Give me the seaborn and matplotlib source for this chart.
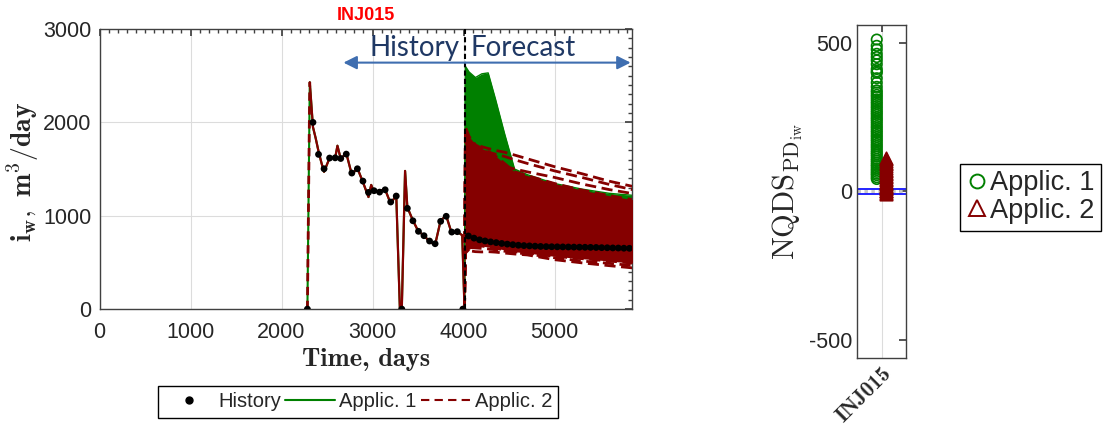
import numpy as np
import pandas as pd
import matplotlib
matplotlib.use("Agg")
import matplotlib.pyplot as plt
import seaborn as sns
from matplotlib.lines import Line2D
from matplotlib.ticker import MultipleLocator

# ---------------- data ----------------
hist_days = [2284, 2345, 2406, 2467, 2528, 2589, 2650, 2711, 2772, 2833,
             2894, 2955, 3016, 3077, 3138, 3199, 3260, 3321, 3382, 3443,
             3504, 3565, 3626, 3687, 3748, 3809, 3870, 3931, 3992]
hist_rate = [0, 2000, 1657, 1503, 1618, 1620, 1613, 1660, 1457, 1503,
             1371, 1250, 1268, 1253, 1278, 1147, 1211, 0, 1079, 946,
             833, 786, 729, 700, 940, 994, 825, 829, 0]

ref_fc_days = [4053, 4114, 4175, 4236, 4297, 4358, 4419, 4480, 4541, 4602,
               4663, 4724, 4785, 4846, 4907, 4968, 5029, 5090, 5151, 5212,
               5273, 5334, 5395, 5456, 5517, 5578, 5639, 5700, 5761, 5822]
ref_fc_rate = [783, 760, 742, 730, 720, 712, 703, 696, 690, 684,
               680, 677, 674, 671, 669, 668, 667, 666, 665, 664,
               663, 662, 661, 660, 658, 657, 655, 654, 652, 651]

sim_days = [2284, 2310, 2345, 2375, 2406, 2440, 2467, 2528, 2589, 2614,
            2650, 2711, 2772, 2833, 2894, 2955, 2985, 3016, 3077, 3138,
            3199, 3260, 3300, 3321, 3357, 3382, 3443, 3504, 3565, 3626,
            3687, 3748, 3809, 3870, 3931, 3985, 4010]
sim_rate = [0, 2430, 1950, 1830, 1690, 1560, 1470, 1620, 1620, 1750,
            1610, 1670, 1440, 1510, 1360, 1200, 1330, 1250, 1270, 1280,
            1130, 1220, 0, 0, 1480, 1090, 950, 830, 790, 720,
            690, 950, 1000, 810, 830, 790, 0]

fc_grid = [4010, 4020, 4060, 4130, 4200, 4270, 4350, 4450, 4560, 4700, 5000, 5300, 5600, 5900]
green_upper = [0, 2600, 2540, 2480, 2520, 2530, 2250, 1880, 1500, 1440, 1345, 1285, 1240, 1215]
green_mid = [0, 2450, 2380, 2330, 2420, 2450, 2100, 1700, 1460, 1410, 1320, 1265, 1220, 1195]
green_lower = [0, 1500, 1480, 1450, 1420, 1400, 1380, 1350, 1300, 1260, 1180, 1120, 1080, 1040]
red_upper = [0, 1950, 1850, 1760, 1720, 1690, 1640, 1560, 1470, 1430, 1345, 1275, 1215, 1165]
red_lower = [0, 600, 640, 680, 675, 665, 650, 635, 615, 600, 565, 540, 515, 488]
red_out_a = [0, 1900, 1800, 1760, 1740, 1720, 1700, 1680, 1650, 1610, 1525, 1450, 1370, 1305]
red_out_b = [0, 1850, 1760, 1720, 1700, 1680, 1660, 1635, 1600, 1560, 1480, 1410, 1335, 1270]
red_out_c = [0, 1800, 1700, 1650, 1620, 1590, 1560, 1530, 1500, 1470, 1410, 1340, 1280, 1230]
red_out_d = [0, 640, 625, 615, 612, 615, 610, 600, 590, 580, 529, 495, 465, 437]
red_out_e = [0, 660, 660, 655, 650, 645, 635, 620, 605, 590, 550, 515, 490, 462]

well = "INJ015"
nqds_app1 = [42, 48, 55, 60, 66, 72, 78, 85, 90, 97, 104, 110, 118, 125, 131,
             138, 146, 153, 160, 168, 175, 183, 190, 198, 205, 213, 220, 228,
             236, 243, 250, 258, 265, 272, 280, 287, 295, 302, 310, 318, 325,
             333, 340, 352, 366, 381, 399, 404, 412, 428, 441, 452, 463, 478,
             490, 511]
nqds_app2 = [-8, -4, 0, 3, 7, 11, 15, 20, 24, 29, 33, 38, 43, 48, 53, 58, 63,
             68, 73, 79, 85, 91, 97, 103, 108, 112]

GREEN = "#008000"
RED = "#850000"
ARROW = "#3F6EB0"
NAVY = "#1F3864"

# ---------------- style ----------------
sns.set_theme(style="white")
plt.rcParams["font.family"] = ["Liberation Sans", "DejaVu Sans"]
plt.rcParams["mathtext.fontset"] = "cm"
plt.rcParams["axes.unicode_minus"] = False

fig = plt.figure(figsize=(11.07, 4.43), dpi=100)
ax = fig.add_axes([0.0899, 0.3023, 0.4810, 0.6322])
ax2 = fig.add_axes([0.7742, 0.1919, 0.0443, 0.7517])

# ---------------- left panel ----------------
ax.fill_between(fc_grid, green_lower, green_upper, color=GREEN, lw=0, zorder=2)
green_df = pd.concat([
    pd.DataFrame({"day": fc_grid, "rate": vals, "member": name})
    for name, vals in [("u", green_upper), ("m", green_mid)]
])
sns.lineplot(data=green_df, x="day", y="rate", units="member", estimator=None,
             sort=False, color=GREEN, lw=1.0, ax=ax, zorder=2)
sns.lineplot(x=sim_days, y=sim_rate, color=GREEN, lw=1.5, sort=False, ax=ax, zorder=2)

ax.fill_between(fc_grid, red_lower, red_upper, color=RED, lw=0, zorder=3)
red_df = pd.concat([
    pd.DataFrame({"day": fc_grid, "rate": vals, "member": name})
    for name, vals in [("a", red_out_a), ("b", red_out_b), ("c", red_out_c),
                       ("d", red_out_d), ("e", red_out_e),
                       ("u", red_upper), ("l", red_lower)]
])
sns.lineplot(data=red_df, x="day", y="rate", units="member", estimator=None,
             sort=False, color=RED, lw=2.0, ls=(0, (4, 2)), ax=ax, zorder=3)
sns.lineplot(x=sim_days[1:], y=sim_rate[1:], color=RED, lw=1.6, sort=False, ax=ax, zorder=3)
sns.lineplot(x=sim_days[:2], y=sim_rate[:2], color=RED, lw=2.0, ls=(0, (3, 2)),
             sort=False, ax=ax, zorder=3)

sns.scatterplot(x=hist_days, y=hist_rate, color="black", s=24, edgecolor="none",
                ax=ax, zorder=5)
sns.scatterplot(x=ref_fc_days, y=ref_fc_rate, color="black", s=24, edgecolor="none",
                ax=ax, zorder=5)

ax.axvline(4020, color="black", lw=1.5, ls=(0, (2.5, 1.5)), zorder=6)

ax.annotate("", xy=(2680, 2640), xytext=(4020, 2640),
            arrowprops=dict(arrowstyle="-|>", color=ARROW, lw=1.5, mutation_scale=20,
                            shrinkA=0, shrinkB=0), zorder=7)
ax.annotate("", xy=(5835, 2640), xytext=(4020, 2640),
            arrowprops=dict(arrowstyle="-|>", color=ARROW, lw=1.5, mutation_scale=20,
                            shrinkA=0, shrinkB=0), zorder=7)
ax.text(3950, 2800, "History", color=NAVY, fontsize=20, family=["Lato", "DejaVu Sans"],
        ha="right", va="center", zorder=7)
ax.text(4080, 2800, "Forecast", color=NAVY, fontsize=20, family=["Lato", "DejaVu Sans"],
        ha="left", va="center", zorder=7)

ax.set_xlim(0, 5850)
ax.set_ylim(0, 3000)
ax.set_xticks([0, 1000, 2000, 3000, 4000, 5000])
ax.set_yticks([0, 1000, 2000, 3000])
ax.xaxis.set_minor_locator(MultipleLocator(100))
ax.yaxis.set_minor_locator(MultipleLocator(100))
ax.grid(True, which="major", color="#dcdcdc", lw=0.8)
ax.set_axisbelow(True)
ax.tick_params(which="both", direction="in", top=True, right=True,
               labelsize=15.5, labelcolor="#262626", color="#404040")
ax.tick_params(axis="x", pad=9)
ax.tick_params(axis="y", pad=6)
ax.tick_params(which="major", length=5)
ax.tick_params(which="minor", length=3)
for s in ax.spines.values():
    s.set_color("#404040")
    s.set_linewidth(1.0)
ax.set_xlabel("Time, days", fontsize=19, family=["cmb10", "DejaVu Serif"], labelpad=4)
ax.set_ylabel(r"$\mathbf{i_w,\ m^3/day}$", fontsize=20)
ax.yaxis.set_label_coords(-0.11, 0.49)
fig.text(0.3306, 0.966, "INJ015", color="red", fontsize=13, fontweight="bold",
         ha="center", va="center")

leg = fig.legend(
    handles=[Line2D([], [], marker="o", ls="none", color="black", ms=5),
             Line2D([], [], color=GREEN, lw=1.5),
             Line2D([], [], color=RED, lw=1.5, ls=(0, (4, 2.5)))],
    labels=["History", "Applic. 1", "Applic. 2"],
    loc="center", bbox_to_anchor=(0.3234, 0.0926), ncol=3, fontsize=14.5,
    frameon=True, fancybox=False, edgecolor="black", framealpha=1,
    handlelength=2.5, handletextpad=0.2, columnspacing=0.2, borderpad=0.3)
leg.get_frame().set_linewidth(1.0)

# ---------------- right panel ----------------
nq_df = pd.DataFrame({
    "well": [well] * (len(nqds_app1) + len(nqds_app2)),
    "nqds": nqds_app1 + nqds_app2,
    "app": ["Applic. 1"] * len(nqds_app1) + ["Applic. 2"] * len(nqds_app2),
})
hue_order = ["Applic. 1", "Applic. 2"]
ax2.axhline(0, color="#c8c8c8", lw=2.5, ls=(0, (1, 1)), zorder=1)
ax2.axhline(10, color="blue", lw=1.2, zorder=1)
ax2.axhline(-10, color="blue", lw=1.2, zorder=1)

n0 = len(ax2.collections)
sns.stripplot(data=nq_df[nq_df.app == "Applic. 1"], x="well", y="nqds", hue="app",
              hue_order=hue_order, palette=[GREEN, RED], dodge=True, jitter=False,
              marker="o", size=7.5, linewidth=1.2, legend=False, ax=ax2, zorder=3)
for coll in ax2.collections[n0:]:
    coll.set_facecolor("none")
    coll.set_edgecolor(GREEN)
    coll.set_linewidth(1.2)
n1 = len(ax2.collections)
sns.stripplot(data=nq_df[nq_df.app == "Applic. 2"], x="well", y="nqds", hue="app",
              hue_order=hue_order, palette=[GREEN, RED], dodge=True, jitter=False,
              marker="^", size=9, linewidth=1.2, legend=False, ax=ax2, zorder=4)
for coll in ax2.collections[n1:]:
    coll.set_facecolor(RED)
    coll.set_edgecolor(RED)
    coll.set_linewidth(1.2)

ax2.set_xlim(-1.02, 1.02)
ax2.set_ylim(-560, 560)
ax2.set_yticks([-500, 0, 500])
ax2.set_xticks([0])
ax2.set_xticklabels(["INJ015"], rotation=45, ha="right", rotation_mode="anchor",
                    fontsize=19, family=["cmb10", "DejaVu Serif"])
ax2.grid(True, axis="x", color="#dcdcdc", lw=0.8)
ax2.set_axisbelow(True)
ax2.tick_params(direction="in", top=True, right=True, labelsize=15.5,
                labelcolor="#262626", color="#404040", length=5)
ax2.tick_params(axis="x", pad=4)
for s in ax2.spines.values():
    s.set_color("#404040")
    s.set_linewidth(1.0)
ax2.set_xlabel("")
ax2.set_ylabel(r"$\mathrm{NQDS}_{\mathrm{PD}_{\mathrm{iw}}}$", fontsize=22)
ax2.yaxis.set_label_coords(-1.06, 0.5)

leg2 = fig.legend(
    handles=[Line2D([], [], marker="o", ls="none", mfc="none", mec=GREEN, ms=10, mew=1.4),
             Line2D([], [], marker="^", ls="none", mfc="none", mec=RED, ms=11, mew=1.4)],
    labels=["Applic. 1", "Applic. 2"], loc="center", bbox_to_anchor=(0.9313, 0.555),
    fontsize=19.5, frameon=True, fancybox=False, edgecolor="black", framealpha=1,
    handlelength=0.7, handletextpad=0.15, borderpad=0.25, labelspacing=0.05)
leg2.get_frame().set_linewidth(1.0)

fig.savefig("out.png", dpi=100)
